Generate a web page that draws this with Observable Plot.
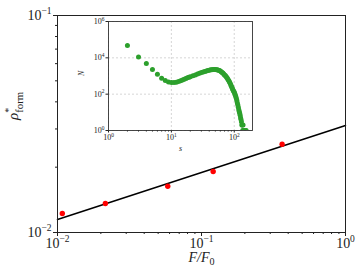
<!DOCTYPE html>
<html><head><meta charset="utf-8">
<script src="https://cdn.jsdelivr.net/npm/d3@7"></script>
<script src="https://cdn.jsdelivr.net/npm/@observablehq/plot@0.6"></script>
<style>
body{margin:0;background:#fff}
#wrap{position:relative;width:360px;height:270px;overflow:hidden}
#wrap svg{position:absolute;font-family:"Liberation Serif","DejaVu Serif",serif}
</style></head><body><div id="wrap"></div>
<script>
// main chart data
const forceRatio = [0.0108, 0.0215, 0.0583, 0.1205, 0.363];
const rhoForm = [0.01223, 0.01361, 0.01633, 0.0191, 0.0255];
const fitX = [0.01, 1];
const fitY = [0.01148, 0.0311];
const mainXTicks = [0.01, 0.1, 1];
const mainXMinor = [0.02,0.03,0.04,0.05,0.06,0.07,0.08,0.09,0.2,0.3,0.4,0.5,0.6,0.7,0.8,0.9];
const mainYTicks = [0.01, 0.1];
const mainYMinor = [0.02,0.03,0.04,0.05,0.06,0.07,0.08,0.09];
// inset data: cluster size distribution
const clusterSize = [2,3,4,5,6,7,8,9,10,11,12,13,14,15,16,17,18,19,20,22,24,26,28,30,32,34,36,38,40,42,44,46,48,50,52,54,56,58,60,62,64,66,68,70,72,74,76,78,80,82,84,86,88,90,92,94,96,98,100,102,104,106,108,110,112,114,116,118,120,122,124,126,128,130,132,134,136,138,140,145,150,155];
const clusterCount = [48000,11000,4800,2300,1250,760,560,470,440,440,460,500,550,600,660,720,790,850,910,1020,1150,1290,1410,1550,1660,1780,1900,2000,2090,2190,2240,2290,2290,2290,2240,2190,2090,2000,1860,1740,1580,1450,1290,1150,1050,930,830,720,630,550,470,400,330,275,230,195,165,145,126,107,87,72,58,45,33,25,19,14,11,9,7,5,4,3,2,2,1,2,1,1,1,1];
const insetXTicks = [1, 10, 100];
const insetXMinor = [2,3,4,5,6,7,8,9,20,30,40,50,60,70,80,90];
const insetYTicks = [1, 100, 1e4, 1e6];

const points = forceRatio.map((f,i)=>({f, rho: rhoForm[i]}));
const fit = fitX.map((f,i)=>({f, rho: fitY[i]}));
const clusters = clusterSize.map((s,i)=>({s, N: clusterCount[i]}));
const expFmt = d => `10^{${Math.round(Math.log10(d)).toString().replace("-","\u2212")}}`;
const FONT = '"Liberation Serif","DejaVu Serif",serif';

const main = Plot.plot({
  width:360, height:270, marginLeft:57, marginRight:15, marginTop:15, marginBottom:38,
  style:{fontFamily:FONT, fontSize:"14px", color:"#222", background:"white"},
  x:{type:"log", domain:[0.01,1]},
  y:{type:"log", domain:[0.01,0.1]},
  marks:[
    Plot.axisX({ticks:mainXTicks, tickSize:4, tickPadding:1.5, tickFormat:expFmt, label:null, fontSize:14}),
    Plot.axisX({ticks:mainXMinor, tickSize:2, tickFormat:()=>"", label:null}),
    Plot.axisY({ticks:mainYTicks, tickSize:4, tickPadding:2, tickFormat:expFmt, label:null, fontSize:14}),
    Plot.axisY({ticks:mainYMinor, tickSize:2, tickFormat:()=>"", label:null}),
    Plot.line(fit, {x:"f", y:"rho", stroke:"black", strokeWidth:1.5}),
    Plot.dot(points, {x:"f", y:"rho", r:2.7, fill:"#ff0000"}),
    Plot.frame({stroke:"#222", strokeWidth:1}),
    Plot.text(["\u03c1^{*}_{form}"], {frameAnchor:"left", dx:-44, dy:-4, rotate:-90, fontSize:15, fontStyle:"italic"}),
    Plot.text(["F/F_{0}"], {frameAnchor:"bottom", dy:29, fontSize:14, fontStyle:"italic"})
  ]
});
main.style.left = "0px"; main.style.top = "0px";

const inset = Plot.plot({
  width:192, height:150, marginLeft:38, marginRight:10, marginTop:11, marginBottom:30,
  style:{fontFamily:FONT, fontSize:"8px", color:"#222"},
  x:{type:"log", domain:[1,195]},
  y:{type:"log", domain:[1,1e6]},
  marks:[
    Plot.frame({fill:"white"}),
    Plot.gridX({ticks:insetXTicks, stroke:"#bbb", strokeOpacity:1, strokeWidth:0.6, strokeDasharray:"2,2"}),
    Plot.gridY({ticks:insetYTicks, stroke:"#bbb", strokeOpacity:1, strokeWidth:0.6, strokeDasharray:"2,2"}),
    Plot.axisX({ticks:insetXTicks, tickSize:2.5, tickPadding:1.5, tickFormat:expFmt, label:null, fontSize:8}),
    Plot.axisX({ticks:insetXMinor, tickSize:1.5, tickFormat:()=>"", label:null}),
    Plot.axisY({ticks:insetYTicks, tickSize:2.5, tickPadding:1.5, tickFormat:expFmt, label:null, fontSize:8}),
    Plot.dot(clusters, {x:"s", y:"N", r:2.5, fill:"#2ca02c", clip:"frame"}),
    Plot.frame({stroke:"#333", strokeWidth:0.9}),
    Plot.text(["N"], {frameAnchor:"left", dx:-27, rotate:-90, fontSize:8, fontStyle:"italic"}),
    Plot.text(["s"], {frameAnchor:"bottom", dy:20, fontSize:8, fontStyle:"italic"})
  ]
});
inset.style.left = "70px"; inset.style.top = "10px";

const wrap = document.getElementById("wrap");
wrap.appendChild(main);
wrap.appendChild(inset);

function richify(svg){
  d3.select(svg).selectAll("text").each(function(){
    const t = this.textContent;
    if(!/[\^_]\{/.test(t)) return;
    const fs = parseFloat(getComputedStyle(this).fontSize) || 10;
    const el = d3.select(this);
    el.text(null);
    const re = /([\^_])\{([^}]*)\}/g;
    let last = 0, m, cur = 0, prevSup = null;
    while ((m = re.exec(t))) {
      if (m.index > last) {
        el.append("tspan").attr("dy", -cur).text(t.slice(last, m.index));
        cur = 0; prevSup = null;
      }
      if (m[1] === "^") {
        const target = -0.42*fs;
        prevSup = el.append("tspan").attr("dy", target - cur).attr("font-size", 0.68*fs).attr("font-style","normal").text(m[2]);
        cur = target;
      } else {
        const target = 0.28*fs;
        const ts = el.append("tspan").attr("dy", target - cur).attr("font-size", 0.72*fs).attr("font-style","normal").text(m[2]);
        if (prevSup) ts.attr("dx", -prevSup.node().getComputedTextLength());
        cur = target; prevSup = null;
      }
      last = re.lastIndex;
    }
    if (last < t.length) el.append("tspan").attr("dy", -cur).text(t.slice(last));
  });
}
richify(main);
richify(inset);
</script></body></html>
